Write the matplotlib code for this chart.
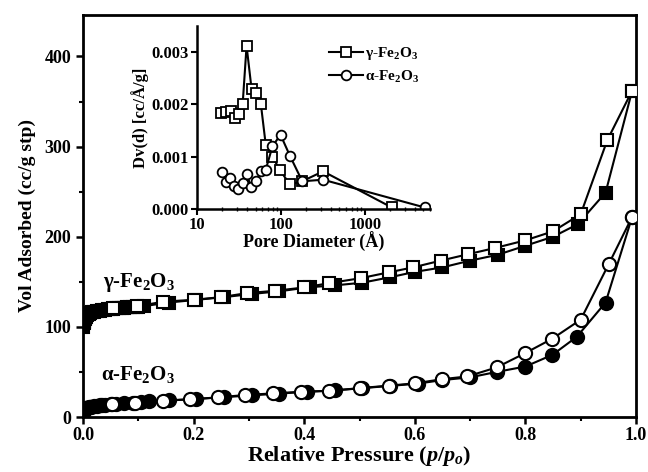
import matplotlib
matplotlib.use("Agg")
import matplotlib.pyplot as plt
import numpy as np

plt.rcParams['font.family'] = ['Liberation Serif', 'DejaVu Serif']
plt.rcParams['font.weight'] = 'bold'
plt.rcParams['mathtext.fontset'] = 'custom'
plt.rcParams['mathtext.rm'] = 'Liberation Serif:bold'
plt.rcParams['mathtext.it'] = 'Liberation Serif:italic:bold'
plt.rcParams['mathtext.bf'] = 'Liberation Serif:bold'
plt.rcParams['mathtext.default'] = 'rm'

# ---- main isotherm data ----
gamma_ads_p = [0.0005, 0.001, 0.0015, 0.002, 0.003, 0.004, 0.005, 0.007, 0.01, 0.013, 0.016,
               0.02, 0.025, 0.03, 0.035, 0.04, 0.045, 0.05, 0.055, 0.06, 0.065, 0.07, 0.075,
               0.08, 0.085, 0.09, 0.095, 0.1, 0.11, 0.155, 0.205,
               0.255, 0.305, 0.355, 0.41, 0.455, 0.505, 0.555, 0.6, 0.65, 0.7, 0.75, 0.8,
               0.85, 0.895, 0.945, 0.993]
gamma_ads_v = [100, 104, 105.5, 107, 109, 110, 111, 113, 114, 115, 116,
               117, 117.5, 118, 118.5, 119, 119.5, 120, 120.2, 120.5, 120.8, 121, 121.2,
               121.5, 121.8, 122, 122.2, 122.5, 123, 127, 130,
               133, 136.5, 139.5, 144, 146, 149, 155, 161, 166, 173.5, 180, 190,
               200, 214, 249, 362]
gamma_des_p = [0.993, 0.948, 0.9, 0.85, 0.8, 0.745, 0.697, 0.647, 0.597, 0.553, 0.502,
               0.445, 0.4, 0.347, 0.296, 0.25, 0.2, 0.145, 0.097, 0.055]
gamma_des_v = [362, 307, 225, 206, 196, 187.5, 180.7, 173.5, 166, 160.5, 154,
               148.5, 143.7, 140, 137.4, 133, 130, 128, 122.6, 121]

alpha_ads_p = [0.0005, 0.001, 0.0015, 0.002, 0.003, 0.004, 0.005, 0.007, 0.01, 0.013, 0.015,
               0.02, 0.025, 0.03, 0.035, 0.04, 0.05, 0.06, 0.075, 0.09, 0.105, 0.12, 0.155,
               0.205, 0.255, 0.305, 0.355, 0.405, 0.455, 0.505, 0.555, 0.605, 0.65, 0.7,
               0.748, 0.8, 0.849, 0.893, 0.945, 0.993]
alpha_ads_v = [5, 7, 7.5, 8, 9, 9.5, 10, 10.5, 11, 11.3, 11.5,
               12, 12.5, 13, 13.2, 13.5, 14, 14.5, 15.5, 16, 17, 17.5, 18.5,
               20, 22, 24, 26, 28, 29.5, 32, 34.5, 37, 41, 44,
               50, 56, 69, 89, 127, 222]
alpha_des_p = [0.993, 0.951, 0.9, 0.849, 0.8, 0.748, 0.695, 0.65, 0.6, 0.553, 0.5,
               0.445, 0.395, 0.344, 0.293, 0.245, 0.193, 0.145, 0.094, 0.052]
alpha_des_v = [222, 170, 108, 87, 71, 55, 45, 42, 37.3, 34.8, 32,
               29, 28, 26.2, 24.4, 21.8, 19.6, 18, 16, 14.4]

# ---- inset pore size distribution ----
gamma_d = [19.1, 22.1, 25.4, 28.3, 31.9, 35, 39, 44.7, 50.4, 57.8, 66, 79.4, 97, 128,
           179, 319, 2100]
gamma_dv = [0.00184, 0.00185, 0.00187, 0.00174, 0.00181, 0.0020, 0.00312, 0.0023,
            0.00221, 0.0020, 0.00123, 0.0010, 0.00075, 0.00047, 0.00053, 0.00072, 0.00003]
alpha_d = [19.7, 22.1, 24.7, 27.5, 31, 35, 39, 44, 50.4, 57.8, 66, 79.4, 99, 128,
           180, 319, 5170]
alpha_dv = [0.000705, 0.000525, 0.0006, 0.00044, 0.00038, 0.00049, 0.00067, 0.00043,
            0.00053, 0.00072, 0.00075, 0.0012, 0.00142, 0.00102, 0.00053, 0.00056, 0.00003]

gamma_label = r'γ-Fe$_2$O$_3$'
alpha_label = r'α-Fe$_2$O$_3$'

fig = plt.figure(figsize=(6.48, 4.72), dpi=100)
ax = fig.add_axes([83/648, 55/472, 553/648, 402/472])

ms = 9
ax.plot(gamma_ads_p, gamma_ads_v, '-s', color='black', lw=1.5, ms=ms,
        mfc='black', mec='black', mew=1.5, zorder=2)
ax.plot(gamma_des_p, gamma_des_v, '-s', color='black', lw=1.5, ms=ms,
        mfc='white', mec='black', mew=1.5, zorder=3)
ax.plot(alpha_ads_p, alpha_ads_v, '-o', color='black', lw=1.5, ms=ms+0.5,
        mfc='black', mec='black', mew=1.5, zorder=2)
ax.plot(alpha_des_p, alpha_des_v, '-o', color='black', lw=1.5, ms=ms+0.5,
        mfc='white', mec='black', mew=1.5, zorder=3)

ax.set_xlim(0, 1.0)
ax.set_ylim(0, 446)
ax.set_xticks([0.0, 0.2, 0.4, 0.6, 0.8, 1.0])
ax.set_xticks(np.arange(0.1, 1.0, 0.2), minor=True)
ax.set_yticks([0, 100, 200, 300, 400])
ax.set_yticks([50, 150, 250, 350], minor=True)
ax.set_xticklabels(['0.0', '0.2', '0.4', '0.6', '0.8', '1.0'])
for s in ax.spines.values():
    s.set_linewidth(2)
ax.tick_params(which='major', direction='out', length=5, width=1.8, labelsize=13)
ax.tick_params(axis='x', which='major', pad=2)
ax.tick_params(which='minor', direction='out', length=3, width=1.5)
for lab in ax.get_xticklabels() + ax.get_yticklabels():
    lab.set_fontweight('bold')

ax.set_xlabel(r'Relative Pressure ($\mathit{p/p_o}$)', fontsize=16, fontweight='bold', labelpad=0)
ax.set_ylabel('Vol Adsorbed (cc/g stp)', fontsize=14, fontweight='bold', labelpad=6)

ax.text(0.036, 149, gamma_label, fontsize=15, fontweight='bold', va='center', ha='left')
ax.text(0.033, 47, alpha_label, fontsize=15, fontweight='bold', va='center', ha='left')

# ---- inset ----
ins = fig.add_axes([197/648, (472-209)/472, 233/648, 183/472])
ins.plot(gamma_d, gamma_dv, '-s', color='black', lw=1.5, ms=6.5, mfc='white',
         mec='black', mew=1.3, label=gamma_label)
ins.plot(alpha_d, alpha_dv, '-o', color='black', lw=1.5, ms=7, mfc='white',
         mec='black', mew=1.3, label=alpha_label)
ins.set_xscale('log')
ins.set_xlim(10, 6000)
ins.set_ylim(0, 0.0035)
ins.set_yticks([0.0, 0.001, 0.002, 0.003])
ins.set_yticklabels(['0.000', '0.001', '0.002', '0.003'])
ins.set_xticks([10, 100, 1000])
ins.set_xticklabels(['10', '100', '1000'])
ins.spines['top'].set_visible(False)
ins.spines['right'].set_visible(False)
ins.spines['left'].set_linewidth(1.8)
ins.spines['bottom'].set_linewidth(1.8)
ins.tick_params(which='major', direction='out', length=4, width=1.5, labelsize=12, pad=2)
ins.tick_params(which='minor', direction='inout', length=3, width=1)
for lab in ins.get_xticklabels() + ins.get_yticklabels():
    lab.set_fontweight('bold')
ins.set_xlabel('Pore Diameter (Å)', fontsize=13, fontweight='bold', labelpad=-1)
ins.set_ylabel('Dv(d) [cc/Å/g]', fontsize=12, fontweight='bold', labelpad=2)
ins.patch.set_alpha(0)
leg = ins.legend(loc='upper left', bbox_to_anchor=(0.54, 0.93), frameon=False,
                 fontsize=11, handlelength=2.2, handletextpad=0.15, borderaxespad=0,
                 labelspacing=0.45)
for t in leg.get_texts():
    t.set_fontweight('bold')

fig.savefig('out.png', dpi=100)
